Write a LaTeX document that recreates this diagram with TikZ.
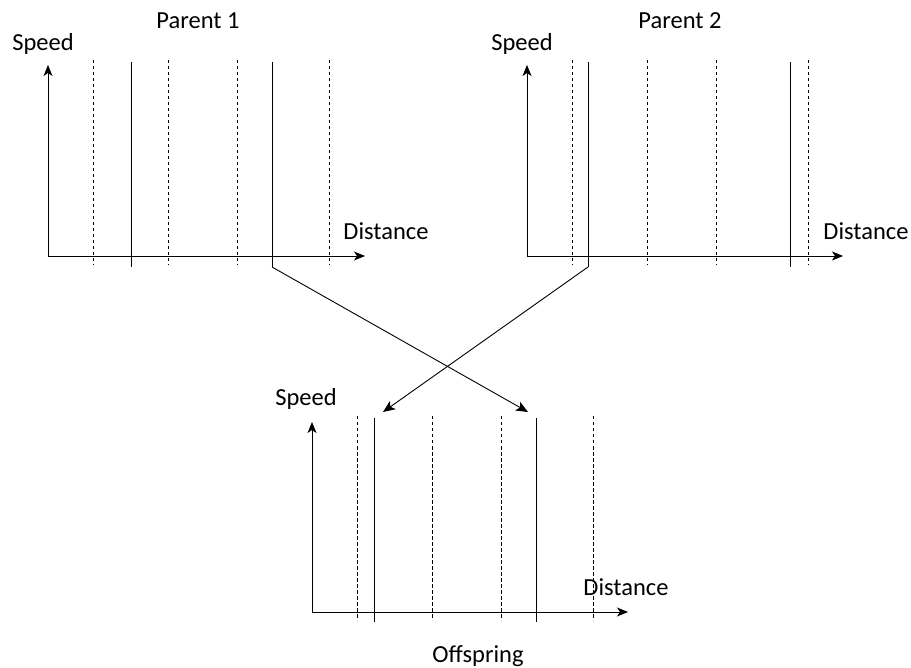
\documentclass[tikz,border=0pt]{standalone}
\usepackage{fontspec}
\setmainfont{Carlito}
\usetikzlibrary{arrows.meta}
\begin{document}
\begin{tikzpicture}[x=1pt,y=-1pt,
  axis/.style={line width=0.9pt,-{Stealth[length=11pt,width=9pt,inset=3pt]}},
  gene/.style={line width=0.8pt},
  bound/.style={line width=0.8pt,dash pattern=on 3.5pt off 2.5pt},
  lbl/.style={font=\fontsize{24.5}{28}\selectfont,inner sep=0pt},
  cross/.style={line width=0.9pt,-{Stealth[length=12pt,width=10pt,inset=3pt]}}]
\useasboundingbox (0,0) rectangle (911,668);

% ---- Parent 1 ----
\coordinate (o1) at (48,256);
\draw[axis] (o1) -- (48,65);
\draw[axis] (o1) -- (365,256);
\foreach \x in {93,168,237,329} \draw[bound] (\x,60) -- (\x,265);
\draw[gene] (131,62) -- (131,267);
\draw[gene] (272,62) -- coordinate[pos=1] (g1) (272,267);
\node[lbl] (t1) at (198,21) {Parent 1};
\node[lbl] (s1) at (43,44) {Speed};
\node[lbl] (d1) at (386,231) {Distance};

% ---- Parent 2 ----
\coordinate (o2) at (527,256);
\draw[axis] (o2) -- (527,65);
\draw[axis] (o2) -- (843,256);
\foreach \x in {572,647,716,808} \draw[bound] (\x,60) -- (\x,265);
\draw[gene] (588,62) -- coordinate[pos=1] (g2) (588,267);
\draw[gene] (790,62) -- (790,267);
\node[lbl] (t2) at (680,21) {Parent 2};
\node[lbl] (s2) at (522,44) {Speed};
\node[lbl] (d2) at (866,231) {Distance};

% ---- Offspring ----
\coordinate (o3) at (312,612);
\draw[axis] (o3) -- (312,422);
\draw[axis] (o3) -- (628,612);
\foreach \x in {357,432,501,593} \draw[bound] (\x,416) -- (\x,620);
\draw[gene] (374,418) -- (374,622);
\draw[gene] (536,418) -- (536,622);
\coordinate (c1) at (528,412);
\coordinate (c2) at (383,412);
\node[lbl] (s3) at (306,399) {Speed};
\node[lbl] (d3) at (626,587) {Distance};
\node[lbl] (t3) at (478,656) {Offspring};

% ---- crossover ----
\draw[cross] (g1) -- (c1);
\draw[cross] (g2) -- (c2);
\end{tikzpicture}
\end{document}
